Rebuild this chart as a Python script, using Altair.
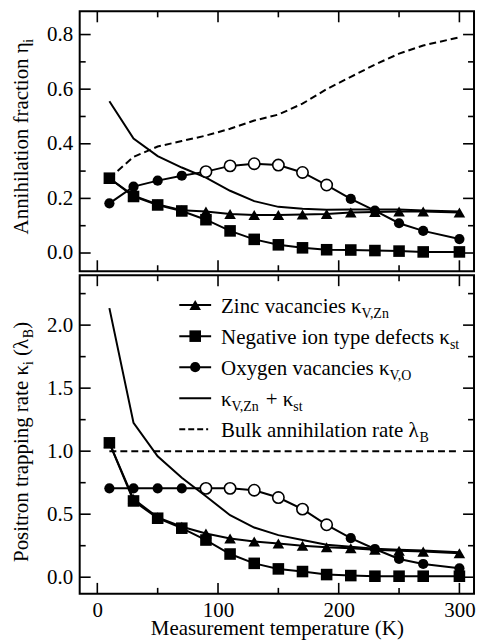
import altair as alt
import pandas as pd

# ---------------- data ----------------
T = [10, 30, 50, 70, 90, 110, 130, 150, 170, 190, 210, 230, 250, 270, 300]
OPEN = [False, False, False, False, True, True, True, True, True, True,
        False, False, False, False, False]

# top panel: annihilation fractions
eta_zn = [0.274, 0.210, 0.178, 0.157, 0.152, 0.143, 0.139, 0.139, 0.141, 0.143,
          0.148, 0.150, 0.152, 0.152, 0.148]
eta_st = [0.274, 0.207, 0.176, 0.154, 0.122, 0.081, 0.050, 0.030, 0.019, 0.012,
          0.011, 0.009, 0.007, 0.004, 0.004]
eta_o = [0.182, 0.243, 0.265, 0.283, 0.298, 0.319, 0.327, 0.322, 0.295, 0.249,
         0.198, 0.155, 0.109, 0.081, 0.051]
eta_sum = [0.556, 0.419, 0.355, 0.313, 0.276, 0.228, 0.190, 0.169, 0.162, 0.158,
           0.159, 0.159, 0.159, 0.156, 0.152]
eta_bulk = [0.274, 0.352, 0.390, 0.410, 0.430, 0.455, 0.485, 0.507, 0.547, 0.600,
            0.645, 0.690, 0.730, 0.760, 0.790]

# bottom panel: trapping rates
kap_zn = [1.066, 0.620, 0.475, 0.400, 0.347, 0.308, 0.284, 0.268, 0.250, 0.237,
          0.229, 0.218, 0.210, 0.203, 0.190]
kap_st = [1.066, 0.605, 0.468, 0.389, 0.295, 0.184, 0.110, 0.066, 0.045, 0.021,
          0.013, 0.008, 0.008, 0.008, 0.008]
kap_o = [0.705, 0.705, 0.705, 0.705, 0.705, 0.705, 0.690, 0.632, 0.540, 0.416,
         0.310, 0.224, 0.145, 0.105, 0.071]
kap_sum = [2.135, 1.224, 0.960, 0.789, 0.642, 0.492, 0.394, 0.334, 0.295, 0.258,
           0.242, 0.226, 0.218, 0.211, 0.198]
kap_bulk = [1.0, 1.0, 1.0, 1.0, 1.0, 1.0, 1.0, 1.0, 1.0, 1.0,
            1.0, 1.0, 1.0, 1.0, 1.0]

X_TICKS_MAJOR = [0, 100, 200, 300]
X_TICKS_MINOR = [50, 150, 250]
TOP_Y_MAJOR = [0.0, 0.2, 0.4, 0.6, 0.8]
TOP_Y_MINOR = [0.1, 0.3, 0.5, 0.7]
BOT_Y_MAJOR = [0.0, 0.5, 1.0, 1.5, 2.0]
BOT_Y_MINOR = [0.25, 0.75, 1.25, 1.75, 2.25]

X_TITLE = "Measurement temperature (K)"
TOP_TITLE = [("Annihilation fraction η", 0), ("i", 1)]
BOT_TITLE = [("Positron trapping rate κ", 0), ("i", 1), (" ", 0), ("(λ", 0), ("B", 1), (")", 0)]
LEGEND_ROWS = [
    ("triangle-up", False, [("Zinc vacancies κ", 0), ("V,Zn", 1)]),
    ("square", False, [("Negative ion type defects κ", 0), ("st", 1)]),
    ("circle", False, [("Oxygen vacancies κ", 0), ("V,O", 1)]),
    (None, False, [("κ", 0), ("V,Zn", 1), (" ", 0), ("+", 0), (" ", 0), ("κ", 0), ("st", 1)]),
    (None, True, [("Bulk annihilation rate λ", 0), ("B", 1)]),
]

# ---------------- style ----------------
FONT = "Liberation Serif"
FS = 21
SFS = 14
SUB_DROP = 5
W = 396
H_TOP = 261
H_BOT = 320
XDOM = [-14.6, 312.1]
TOP_DOM = [-0.0667, 0.885]
BOT_DOM = [-0.132, 2.396]
MAJ = 11
MIN = 6

TW = {' ': 250, ',': 250, '+': 564, '(': 333, ')': 333, 'A': 722, 'B': 667, 'N': 722,
      'O': 722, 'P': 556, 'V': 722, 'Z': 611, 'M': 889, 'K': 722,
      'a': 444, 'b': 500, 'c': 444, 'd': 500, 'e': 444, 'f': 333, 'g': 500, 'h': 500,
      'i': 278, 'k': 500, 'l': 278, 'm': 778, 'n': 500, 'o': 500, 'p': 500, 'r': 333,
      's': 389, 't': 278, 'u': 500, 'v': 500, 'x': 500, 'y': 500, 'z': 444,
      'κ': 500, 'λ': 520, 'η': 500}


def tw(s, fs):
    return sum(TW.get(c, 500) for c in s) / 1000.0 * fs


def long_df(zn, st, o, sm, bk):
    rows = []
    for name, vals in zip(["zn", "st", "o", "sum", "bulk"], [zn, st, o, sm, bk]):
        for i, (t, v) in enumerate(zip(T, vals)):
            rows.append({"T": t, "v": v, "s": name, "open": OPEN[i]})
    return pd.DataFrame(rows)


xscale = alt.Scale(domain=XDOM, nice=False, zero=False)


def rotated_title(segments, x0, y0):
    layers = []
    dx = 0.0
    one = pd.DataFrame({"a": [0]})
    for txt, sub in segments:
        fs = SFS if sub else FS
        if txt.strip():
            layers.append(
                alt.Chart(one).mark_text(
                    angle=270, align="left", baseline="alphabetic", font=FONT,
                    fontSize=fs, color="black", dx=dx, dy=SUB_DROP if sub else 0
                ).encode(x=alt.value(x0), y=alt.value(y0), text=alt.value(txt))
            )
        dx += tw(txt, fs)
    return layers


def panel(df, ydom, H, ymaj, ymin, show_x, title_segments, title_y, legend=False):
    yscale = alt.Scale(domain=ydom, nice=False, zero=False)
    if show_x:
        xaxis = alt.Axis(values=X_TICKS_MAJOR, title=X_TITLE, labelPadding=6,
                         titlePadding=-3, format="d")
    else:
        xaxis = None
    yaxis = alt.Axis(values=ymaj, format=".1f", title=None, labelPadding=7)

    base = alt.Chart(df)
    X = alt.X("T:Q", scale=xscale, axis=xaxis)
    Y = alt.Y("v:Q", scale=yscale, axis=yaxis)

    layers = []
    # tick marks (inward) on all four sides
    for vals, L in [(ymaj, MAJ), (ymin, MIN)]:
        d = pd.DataFrame({"v": vals})
        layers.append(alt.Chart(d).mark_rule(color="black", strokeWidth=1.6).encode(
            y=alt.Y("v:Q", scale=yscale, axis=yaxis), x=alt.value(0), x2=alt.value(L)))
        layers.append(alt.Chart(d).mark_rule(color="black", strokeWidth=1.6).encode(
            y=alt.Y("v:Q", scale=yscale, axis=yaxis), x=alt.value(W - L), x2=alt.value(W)))
    for vals, L in [(X_TICKS_MAJOR, MAJ), (X_TICKS_MINOR, MIN)]:
        d = pd.DataFrame({"v": vals})
        layers.append(alt.Chart(d).mark_rule(color="black", strokeWidth=1.6).encode(
            x=alt.X("v:Q", scale=xscale, axis=xaxis), y=alt.value(0), y2=alt.value(L)))
        layers.append(alt.Chart(d).mark_rule(color="black", strokeWidth=1.6).encode(
            x=alt.X("v:Q", scale=xscale, axis=xaxis), y=alt.value(H - L), y2=alt.value(H)))

    # lines
    layers.append(base.transform_filter(alt.datum.s == "bulk").mark_line(
        color="black", strokeWidth=2, strokeDash=[7, 4]).encode(x=X, y=Y))
    for s in ["sum", "o", "zn", "st"]:
        layers.append(base.transform_filter(alt.datum.s == s).mark_line(
            color="black", strokeWidth=2).encode(x=X, y=Y))
    # markers
    layers.append(base.transform_filter((alt.datum.s == "o") & (alt.datum.open == False)).mark_point(
        shape="circle", filled=True, fill="black", size=105, opacity=1).encode(x=X, y=Y))
    layers.append(base.transform_filter((alt.datum.s == "o") & (alt.datum.open == True)).mark_point(
        shape="circle", filled=True, fill="white", stroke="black", strokeWidth=1.6,
        size=130, opacity=1).encode(x=X, y=Y))
    layers.append(base.transform_filter(alt.datum.s == "zn").mark_point(
        shape="triangle-up", filled=True, fill="black", size=135, opacity=1).encode(x=X, y=Y))
    layers.append(base.transform_filter(alt.datum.s == "st").mark_point(
        shape="square", filled=True, fill="black", size=135, opacity=1).encode(x=X, y=Y))

    if legend:
        x_line0, x_line1, x_sym, x_text = 100, 132, 116, 142
        base_y0, dy_row = 37.5, 31.2
        txt_rows, line_rows, dash_rows, sym_rows = [], [], [], []
        for r, (shape, dashed, segs) in enumerate(LEGEND_ROWS):
            by = base_y0 + r * dy_row
            cy = by - 7.5
            (dash_rows if dashed else line_rows).append(
                {"x1": x_line0, "x2": x_line1 - (3 if dashed else 0), "y": cy})
            if shape:
                sym_rows.append({"x": x_sym, "y": cy, "shp": shape,
                                 "sz": 105 if shape == "circle" else 135})
            cx = x_text
            for txt, sub in segs:
                fs = SFS if sub else FS
                if txt.strip():
                    txt_rows.append({"lx": cx, "ly": by + (SUB_DROP if sub else 0),
                                     "txt": txt, "fs": fs})
                cx += tw(txt, fs)
        layers.append(alt.Chart(pd.DataFrame(line_rows)).mark_rule(
            color="black", strokeWidth=2).encode(
            x=alt.X("x1:Q", scale=None), x2="x2:Q", y=alt.Y("y:Q", scale=None)))
        layers.append(alt.Chart(pd.DataFrame(dash_rows)).mark_rule(
            color="black", strokeWidth=2, strokeDash=[6, 3]).encode(
            x=alt.X("x1:Q", scale=None), x2="x2:Q", y=alt.Y("y:Q", scale=None)))
        layers.append(alt.Chart(pd.DataFrame(sym_rows)).mark_point(
            filled=True, fill="black", opacity=1).encode(
            x=alt.X("x:Q", scale=None), y=alt.Y("y:Q", scale=None),
            shape=alt.Shape("shp:N", scale=None), size=alt.Size("sz:Q", scale=None)))
        layers.append(alt.Chart(pd.DataFrame(txt_rows)).mark_text(
            align="left", baseline="alphabetic", font=FONT, color="black").encode(
            x=alt.X("lx:Q", scale=None), y=alt.Y("ly:Q", scale=None),
            text="txt:N", size=alt.Size("fs:Q", scale=None)))

    layers += rotated_title(title_segments, -52, title_y)
    return alt.layer(*layers).properties(width=W, height=H)


top = panel(long_df(eta_zn, eta_st, eta_o, eta_sum, eta_bulk), TOP_DOM, H_TOP,
            TOP_Y_MAJOR, TOP_Y_MINOR, False, TOP_TITLE, 224)
bot = panel(long_df(kap_zn, kap_st, kap_o, kap_sum, kap_bulk), BOT_DOM, H_BOT,
            BOT_Y_MAJOR, BOT_Y_MINOR, True, BOT_TITLE, 288, legend=True)

chart = alt.vconcat(top, bot, spacing=0).properties(
    padding={"left": 1, "top": 0, "right": 0, "bottom": 0}
).configure_view(stroke="black", strokeWidth=2).configure_axis(
    labelFont=FONT, titleFont=FONT, labelFontSize=FS, titleFontSize=FS,
    labelColor="black", titleColor="black", titleFontWeight="normal",
    grid=False, domain=False, ticks=False, tickSize=0
)

chart.save("out.html", embed_options={"renderer": "svg", "actions": False})
